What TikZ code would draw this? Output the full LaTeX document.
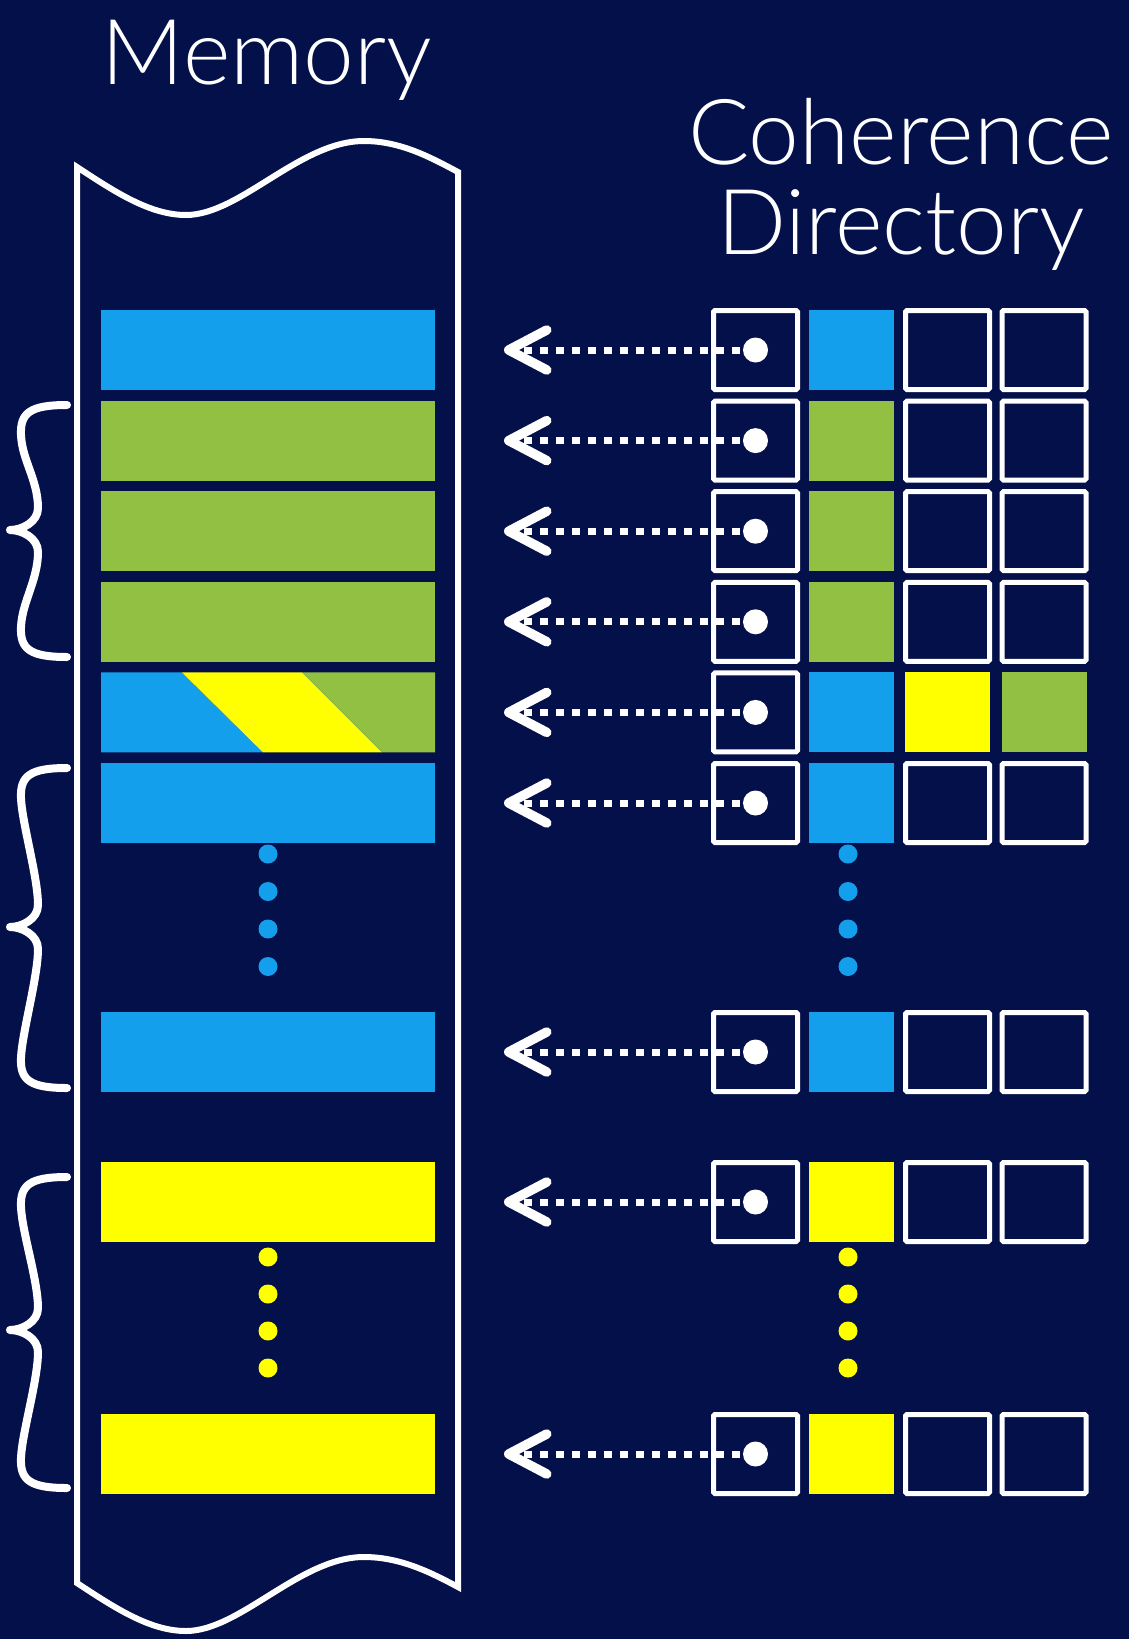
\documentclass[tikz,border=0pt]{standalone}
\usepackage{fontspec}
\setmainfont{Lato}[UprightFont=* Light]
\usetikzlibrary{arrows.meta}
\definecolor{navy}{RGB}{3,16,74}
\definecolor{dirblue}{RGB}{20,159,237}
\definecolor{dirgreen}{RGB}{146,192,67}
\definecolor{diryellow}{RGB}{255,255,0}

\begin{document}
\begin{tikzpicture}[
x=1pt, y=-1pt,
every node/.style={inner sep=0, outer sep=0},
title/.style={white, anchor=base, font=\fontsize{91}{100}\selectfont},
bar/.style={minimum width=334pt, minimum height=80pt},
cell/.style={draw=white, line width=5pt, rounded corners=1.5pt, minimum width=84pt, minimum height=79pt},
fillcell/.style={minimum width=85pt, minimum height=80pt},
ycell/.style={fillcell, fill=diryellow},
gcell/.style={fillcell, fill=dirgreen},
ptrdot/.style={circle, fill=white, minimum size=25pt},
ptr/.style={white, line width=7pt, dash pattern=on 8pt off 8pt,
  -{Straight Barb[length=38pt, width=40pt, line width=9.5pt, round]}},
memline/.style={white, line width=6pt},
brace/.style={white, line width=8pt, line cap=round, line join=round}
]
\path[use as bounding box, fill=navy] (0,0) rectangle (1129,1639);

\node[title] (memtitle) at (267,84) {Memory};
\node[title] (cohtitle) at (901,164) {Coherence};
\node[title] (dirtitle) at (901,254) {Directory};

% the memory strip with torn ends
\draw[memline] (77,1583) -- (77,167)
  .. controls (115,192) and (150,215) .. (186,215)
  .. controls (240,215) and (300,141) .. (364,141)
  .. controls (400,141) and (430,157) .. (458,172)
  -- (458,1587)
  .. controls (430,1572) and (400,1557) .. (364,1557)
  .. controls (300,1557) and (240,1631) .. (186,1631)
  .. controls (150,1631) and (115,1608) .. (77,1583) -- cycle;

% memory blocks, directory entries and their pointers
\foreach \y/\mem/\two/\three/\four [count=\i] in {
  350/dirblue/dirblue/cell/cell,
  440.6/dirgreen/dirgreen/cell/cell,
  531.2/dirgreen/dirgreen/cell/cell,
  621.8/dirgreen/dirgreen/cell/cell,
  712.4/none/dirblue/ycell/gcell,
  803/dirblue/dirblue/cell/cell,
  1052/dirblue/dirblue/cell/cell,
  1202/diryellow/diryellow/cell/cell,
  1454/diryellow/diryellow/cell/cell}
{
  \node[bar, fill=\mem] (m\i) at (268,\y) {};
  \node[cell] (p\i) at (755.5,\y) {};
  \node[fillcell, fill=\two] (s\i) at (851.5,\y) {};
  \node[\three] (a\i) at (947.5,\y) {};
  \node[\four] (b\i) at (1044,\y) {};
  \node[ptrdot] (d\i) at (p\i) {};
  \coordinate (t\i) at (504,\y);
  \draw[ptr] (d\i.center) -- (t\i);
}

% shared block
\fill[dirblue] (101,672.4) -- (182,672.4) -- (263,752.4) -- (101,752.4) -- cycle;
\fill[diryellow] (182,672.4) -- (302,672.4) -- (382,752.4) -- (263,752.4) -- cycle;
\fill[dirgreen] (302,672.4) -- (435,672.4) -- (435,752.4) -- (382,752.4) -- cycle;

% ellipses
\foreach \y in {854,891.5,929,966.5} {
  \fill[dirblue] (268,\y) circle[radius=9.5];
  \fill[dirblue] (848,\y) circle[radius=9.5];
}
\foreach \y in {1257,1294,1331,1368} {
  \fill[diryellow] (268,\y) circle[radius=9.5];
  \fill[diryellow] (848,\y) circle[radius=9.5];
}

% braces
\foreach \a/\m/\b in {405/530/657, 768/927/1088, 1177/1330/1488}
  \draw[brace] (67,\a) .. controls (30,\a) and (20,{\a+8}) .. (21,{\a+30})
    .. controls (22,{\a+55}) and (38,{\m-50}) .. (38,{\m-22})
    .. controls (38,{\m-8}) and (22,\m) .. (10,\m)
    .. controls (22,\m) and (38,{\m+8}) .. (38,{\m+22})
    .. controls (38,{\m+50}) and (22,{\b-55}) .. (21,{\b-30})
    .. controls (20,{\b-8}) and (30,\b) .. (67,\b);
\end{tikzpicture}
\end{document}
